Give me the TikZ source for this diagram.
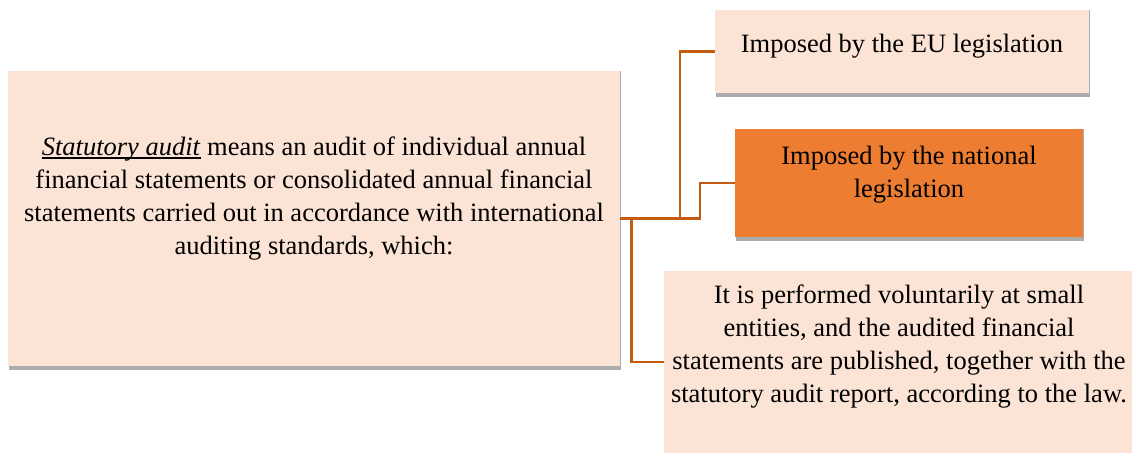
\documentclass[tikz,border=0pt]{standalone}
\usepackage{fontspec}
\setmainfont{Liberation Serif}
\usetikzlibrary{backgrounds}
\definecolor{peach}{HTML}{FBE4D5}
\definecolor{orangeA}{HTML}{ED7D31}
\definecolor{linkc}{HTML}{C55A11}
\definecolor{shad}{HTML}{ADADAD}
\newcommand\myuline[1]{\setbox0\hbox{#1}\rlap{\rule[-1.3pt]{\wd0}{0.6pt}}\box0\relax}
\begin{document}
\begin{tikzpicture}[x=0.5pt,y=-0.5pt,
  box/.style={fill=peach, inner sep=0, draw=none},
  obox/.style={fill=orangeA, inner sep=0, draw=none},
  txt/.style={inner sep=0, align=center, font=\fontsize{13.25}{16.5}\selectfont},
  link/.style={draw=linkc, line width=1.2pt},
  shadowfill/.style={fill=shad}]
\useasboundingbox (0,0) rectangle (1132,452);
\node[box, minimum width=306pt, minimum height=147.5pt] (main) at (314,218.5) {};
\node[box, minimum width=187pt, minimum height=41.5pt] (eu) at (902,51.5) {};
\node[obox, minimum width=174pt, minimum height=54pt] (nat) at (909,183) {};
\node[box, minimum width=235pt, minimum height=91pt] (vol) at (899,362) {};
\begin{scope}[on background layer]
  \fill[shadowfill] ([xshift=0.5pt]main.north west) rectangle ([xshift=0.5pt,yshift=-2pt]main.south east);
  \fill[shadowfill] ([xshift=0.5pt]eu.north west) rectangle ([xshift=0.5pt,yshift=-2pt]eu.south east);
  \fill[shadowfill] ([xshift=0.5pt]nat.north west) rectangle ([xshift=0.5pt,yshift=-2pt]nat.south east);
\end{scope}
\node[txt] (mainT) at (314,199) {\myuline{\textit{Statutory audit}} means an audit of individual annual\\financial statements or consolidated annual financial\\statements carried out in accordance with international\\auditing standards, which:};
\node[txt] (euT) at (902,46) {Imposed by the EU legislation};
\node[txt] (natT) at (909,175) {Imposed by the national\\legislation};
\node[txt] (volT) at (899,347) {It is performed voluntarily at small\\entities, and the audited financial\\statements are published, together with the\\statutory audit report, according to the law.};
\coordinate (j0) at (631.5,218.5);
\coordinate (j1) at (680,218.5);
\coordinate (j2) at (700,218.5);
\draw[link] (main.east) -- (j2) |- (nat.west);
\draw[link] (j1) |- (eu.west);
\draw[link] (j0) |- (vol.west);
\end{tikzpicture}
\end{document}
